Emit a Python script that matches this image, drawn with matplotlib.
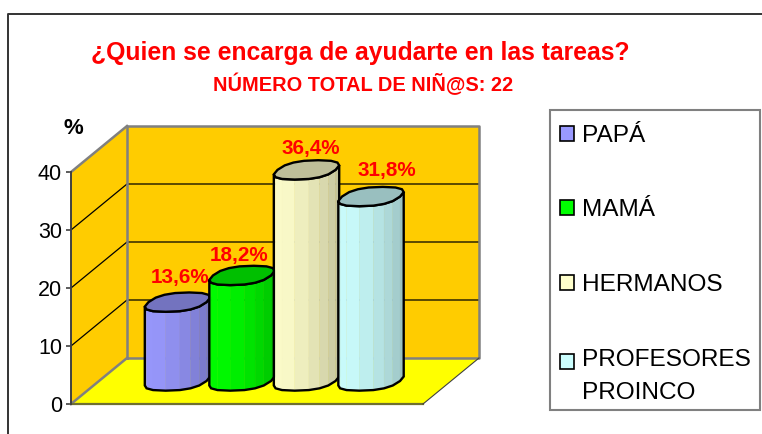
import numpy as np
import matplotlib
matplotlib.use("Agg")
import matplotlib.pyplot as plt
from matplotlib.patches import Polygon, Patch, Rectangle
from matplotlib.lines import Line2D
from matplotlib.legend_handler import HandlerPatch

categorias = ["PAPÁ", "MAMÁ", "HERMANOS", "PROFESORES\nPROINCO"]
valores = [13.6, 18.2, 36.4, 31.8]
etiquetas = ["13,6%", "18,2%", "36,4%", "31,8%"]
colores = ["#9999FF", "#00FF00", "#FFFFCC", "#CCFFFF"]
ticks_y = [0, 10, 20, 30, 40]
titulo = "¿Quien se encarga de ayudarte en las tareas?"
subtitulo = "NÚMERO TOTAL DE NIÑ@S: 22"

plt.rcParams["font.family"] = ["Liberation Sans", "DejaVu Sans"]

W, H = 762, 434
fig = plt.figure(figsize=(W / 100, H / 100), dpi=100)


def fx(px):
    return px / W


def fy(py):
    return 1 - py / H


# front plane of the 3d box, value axis on its left side
ax = fig.add_axes([fx(71), fy(404), 352 / W, 232 / H])
ax.set_xlim(-1.217, 4.24)
ax.set_ylim(0, 40)
ax.patch.set_visible(False)

# depth of the box in data units
DX = 56 / 64.5
DY = 46 / 5.8
XMIN, XMAX = ax.get_xlim()
YMAX = ticks_y[-1]


def proj(x, y, d):
    return x + d * DX, y + d * DY


def tint(col, f):
    r, g, b = matplotlib.colors.to_rgb(col)
    return (r * f, g * f, b * f)


# walls and floor
back = [proj(XMIN, 0, 1), proj(XMAX, 0, 1), proj(XMAX, YMAX, 1), proj(XMIN, YMAX, 1)]
side = [(XMIN, 0), proj(XMIN, 0, 1), proj(XMIN, YMAX, 1), (XMIN, YMAX)]
floor = [(XMIN, 0), (XMAX, 0), proj(XMAX, 0, 1), proj(XMIN, 0, 1)]
ax.add_patch(Polygon(back, fc="#FFCC00", ec="none", clip_on=False, zorder=1))
ax.add_patch(Polygon(side, fc="#FFCC00", ec="none", clip_on=False, zorder=1))
ax.add_patch(Polygon(floor, fc="#FFFF00", ec="none", clip_on=False, zorder=1))

for t in ticks_y[1:-1]:
    a = proj(XMIN, t, 0)
    b = proj(XMIN, t, 1)
    c = proj(XMAX, t, 1)
    ax.plot([a[0], b[0], c[0]], [a[1], b[1], c[1]], color="black", lw=0.9, clip_on=False, zorder=2)

gris = "#808080"
for pts in [back, [side[0], side[1]], [side[3], side[2]]]:
    xs, ys = zip(*pts)
    if len(pts) == 4:
        xs, ys = xs + xs[:1], ys + ys[:1]
    ax.plot(xs, ys, color=gris, lw=1.8, clip_on=False, zorder=2)
ax.plot([XMIN, XMAX], [0, 0], color="#707030", lw=1.6, clip_on=False, zorder=2)
a = proj(XMAX, 0, 1)
ax.plot([XMAX, a[0]], [0, a[1]], color="#404040", lw=0.8, clip_on=False, zorder=2)

# cylinders, drawn as faceted prisms
RX = 0.45
RD = 0.21
N = 16
ang = np.linspace(0, 2 * np.pi, N + 1)[:-1]
zb = 3


def anillo(xc, y):
    c = np.sign(np.cos(ang)) * np.abs(np.cos(ang)) ** 0.8
    s = np.sign(np.sin(ang)) * np.abs(np.sin(ang)) ** 0.8
    xs = xc + RX * c + RD * s * DX + 0.5 * DX
    ys = y + RD * s * DY + 0.5 * DY
    return np.column_stack([xs, ys])


for i, (v, col) in enumerate(zip(valores, colores)):
    base = anillo(i, 0)
    tapa = anillo(i, v)
    il = np.argmin(base[:, 0])
    ir = np.argmax(base[:, 0])
    # front half goes from the left extreme to the right extreme
    frente = []
    for k in range(N):
        j = (il + k) % N
        frente.append(j)
        if j == ir:
            break
    for k in range(len(frente) - 1):
        p, q = frente[k], frente[k + 1]
        u = k / (len(frente) - 2)
        f = 0.93 + 0.07 * u / 0.2 if u < 0.2 else 1 - 0.24 * (u - 0.2) / 0.8
        ax.add_patch(Polygon([base[p], base[q], tapa[q], tapa[p]], fc=tint(col, f),
                             ec=tint(col, f), lw=0.3, clip_on=False, zorder=zb))
    contorno = np.vstack([tapa[frente], base[frente][::-1]])
    ax.add_patch(Polygon(contorno, fill=False, ec="black", lw=1.7, clip_on=False, zorder=zb))
    ax.add_patch(Polygon(tapa, fc=tint(col, 0.75), ec="black", lw=1.7, clip_on=False, zorder=zb))
    zb += 1

# data labels
desp = [(3, 25), (-3, 20), (4, 21), (16, 26)]
for i, (v, et) in enumerate(zip(valores, etiquetas)):
    ax.annotate(et, xy=(i + 0.5 * DX, v + 0.5 * DY), xytext=desp[i], textcoords="offset pixels",
                ha="center", va="center", color="red", fontsize=14.9, fontweight="bold",
                annotation_clip=False, zorder=20)

# value axis
ax.set_xticks([])
ax.set_yticks(ticks_y)
ax.tick_params(axis="y", labelsize=15.5, length=3.5, width=1.2, color="#404040", pad=3)
for s in ["top", "right", "bottom"]:
    ax.spines[s].set_visible(False)
ax.spines["left"].set_color("#404040")
ax.spines["left"].set_linewidth(1.4)

fig.text(fx(73), fy(128), "%", ha="center", va="center", fontsize=16, fontweight="bold", color="black")
fig.text(fx(360.5), fy(53), titulo, ha="center", va="center", fontsize=17.8, fontweight="bold", color="red")
fig.text(fx(363.5), fy(84), subtitulo, ha="center", va="center", fontsize=14.4, fontweight="bold", color="red")

# outer frame, cut by the image on the right and bottom
fig.add_artist(Line2D([fx(8), fx(8), 1], [0, fy(14), fy(14)], color="#333333", lw=1.4))

# legend box is separate so the rows can sit lower than the border pad allows
fig.add_artist(Rectangle((fx(550), fy(410)), 210 / W, 300 / H, transform=fig.transFigure,
                         fc="white", ec=gris, lw=1.5))


def cuadro(legend, orig_handle, xdescent, ydescent, width, height, fontsize):
    # two-line entry: keep the swatch beside the first line
    sube = 10.8 if orig_handle.get_label() == "doble" else 0
    return Rectangle((-xdescent, -ydescent + sube), width, height)


handles = [Patch(fc=c, ec="black", lw=1.2, label="doble" if "\n" in n else n)
           for c, n in zip(colores, categorias)]
leg = fig.legend(handles, categorias, loc="upper left", bbox_to_anchor=(fx(550), fy(115)),
                 borderaxespad=0, fontsize=17.6, frameon=False,
                 handlelength=0.57, handleheight=0.57, handletextpad=0.33, borderpad=0.4,
                 labelspacing=2.155, handler_map={Patch: HandlerPatch(patch_func=cuadro)})
leg.get_texts()[3].set_linespacing(1.64)

fig.savefig("out.png", dpi=100)
